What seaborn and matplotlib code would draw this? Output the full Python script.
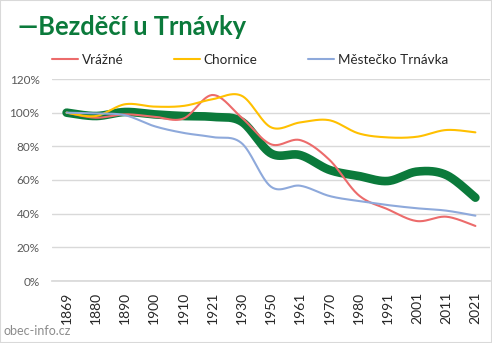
import numpy as np
import pandas as pd
import matplotlib
matplotlib.use("Agg")
import matplotlib.pyplot as plt
import seaborn as sns
from matplotlib.ticker import FuncFormatter, FixedLocator

years = ["1869", "1880", "1890", "1900", "1910", "1921", "1930", "1950",
         "1961", "1970", "1980", "1991", "2001", "2011", "2021"]
bezdeci = [100, 98, 100.4, 99, 98, 97.5, 94.6, 75.8, 74.8, 66, 62.4, 59.4, 65, 63, 49.5]
vrazne = [100, 97, 99, 97.6, 96.5, 110.5, 97, 81.2, 83.7, 72, 51, 42.6, 35.6, 38.2, 32.7]
chornice = [100, 98, 105, 103.6, 104, 108, 110, 91.3, 94.2, 95.5, 87.7, 85.3, 85.7, 89.7, 88.3]
mestecko = [100, 99.5, 98.5, 92, 88, 85.5, 81.8, 56, 56.6, 50.5, 47.5, 45.1, 43.2, 41.8, 38.8]

title = "—Bezděčí u Trnávky"
names = ["Vrážné", "Chornice", "Městečko Trnávka"]
colors = {"Bezděčí u Trnávky": "#0B7A3B", "Vrážné": "#EC6B6B",
          "Chornice": "#FFC000", "Městečko Trnávka": "#8EA9DB"}


def smooth(vals, n=30):
    """Excel-style Bezier smoothing through the data points."""
    p = np.array(vals, dtype=float) / 100.0
    x = np.arange(len(p), dtype=float)
    pts = np.column_stack([x, p])
    ext = np.vstack([pts[0], pts, pts[-1]])
    out = []
    t = np.linspace(0, 1, n, endpoint=False)
    for i in range(len(pts) - 1):
        p0, p1, p2, p3 = ext[i], ext[i + 1], ext[i + 2], ext[i + 3]
        c1 = p1 + (p2 - p0) / 6.0
        c2 = p2 - (p3 - p1) / 6.0
        seg = (((1 - t) ** 3)[:, None] * p1 + (3 * (1 - t) ** 2 * t)[:, None] * c1
               + (3 * (1 - t) * t ** 2)[:, None] * c2 + (t ** 3)[:, None] * p2)
        out.append(seg)
    out.append(pts[-1:])
    return np.vstack(out)


sns.set_theme(style="white")
plt.rcParams["font.family"] = ["Lato", "DejaVu Sans"]

fig = plt.figure(figsize=(4.92, 3.43), dpi=100)
ax = fig.add_axes([52 / 492, 62 / 343, 438 / 492, 202 / 343])

series = [("Bezděčí u Trnávky", bezdeci, 6.2)] + [
    (names[0], vrazne, 1.5), (names[1], chornice, 1.5), (names[2], mestecko, 1.5)]
for name, vals, lw in series:
    s = smooth(vals)
    df = pd.DataFrame({"x": s[:, 0], "y": s[:, 1]})
    sns.lineplot(data=df, x="x", y="y", ax=ax, color=colors[name], lw=lw,
                 sort=False, estimator=None, label=None if name == "Bezděčí u Trnávky" else name,
                 solid_capstyle="round")

ax.set_xlim(-0.5, len(years) - 0.5)
ax.set_ylim(0, 1.2)
ax.set_yticks(np.arange(0, 1.21, 0.2))
ax.yaxis.set_major_formatter(FuncFormatter(lambda v, _: f"{round(v * 100)}%"))
ax.set_xticks(range(len(years)))
ax.set_xticklabels(years, rotation=90, fontsize=10, color="#262626")
ax.xaxis.set_minor_locator(FixedLocator(np.arange(-0.5, len(years), 1)))
ax.tick_params(axis="x", which="major", length=0, pad=8)
ax.tick_params(axis="x", which="minor", length=4, color="#D9D9D9", width=1)
ax.tick_params(axis="y", length=0, labelsize=8.5, labelcolor="#595959", pad=9)
ax.set_xlabel("")
ax.set_ylabel("")
ax.grid(axis="y", color="#D9D9D9", lw=1)
for sp in ["top", "right", "left"]:
    ax.spines[sp].set_visible(False)
ax.spines["bottom"].set_color("#D9D9D9")

ax.legend(loc="center", bbox_to_anchor=(250 / 492, 1 - 60 / 343),
          bbox_transform=fig.transFigure, ncol=3, frameon=False,
          fontsize=9.7, handlelength=1.95, handletextpad=0.25,
          columnspacing=3.75, labelcolor="#262626")

fig.text(18 / 492, 1 - 27 / 343, title, fontsize=18.4, fontweight="bold",
         color="#0B7A3B", va="center", ha="left")
fig.text(3 / 492, 1 - 331 / 343, "obec-info.cz", fontsize=9, color="#8C8C8C",
         va="center", ha="left")

fig.patches.append(plt.Rectangle((0, 0), 1, 1, transform=fig.transFigure,
                                 fill=False, ec="#D9D9D9", lw=1.5))
fig.savefig("out.png", dpi=100)
